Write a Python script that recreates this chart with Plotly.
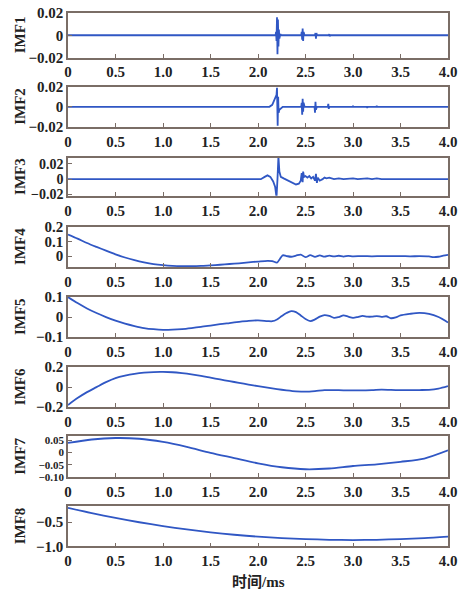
import plotly.graph_objects as go

# ---------------- data ----------------
x_tick_vals = [0, 0.5, 1.0, 1.5, 2.0, 2.5, 3.0, 3.5, 4.0]
x_tick_text = ["0", "0.5", "1.0", "1.5", "2.0", "2.5", "3.0", "3.5", "4.0"]
names = ["IMF1", "IMF2", "IMF3", "IMF4", "IMF5", "IMF6", "IMF7", "IMF8"]

imf1_t = [0, 2.185, 2.19, 2.195, 2.2, 2.205, 2.21, 2.215, 2.22, 2.225, 2.235, 2.245,
          2.455, 2.46, 2.465, 2.47, 2.475, 2.48, 2.49, 2.6, 2.605, 2.61, 2.615, 2.62,
          2.745, 2.75, 2.755, 2.76, 4.0]
imf1_v = [0, 0, 0.003, -0.005, 0.016, -0.017, 0.014, -0.01, 0.005, -0.003, 0.001, 0,
          0, 0.003, -0.004, 0.006, -0.005, 0.003, 0, 0, 0.002, -0.003, 0.002, 0,
          0, 0.001, -0.001, 0, 0]

imf2_t = [0, 2.12, 2.15, 2.18, 2.195, 2.2, 2.203, 2.207, 2.212, 2.217, 2.225, 2.24, 2.26,
          2.455, 2.46, 2.465, 2.47, 2.475, 2.48, 2.49, 2.595, 2.6, 2.605, 2.61, 2.62,
          2.735, 2.74, 2.745, 2.75, 2.995, 3.0, 3.005, 3.145, 3.15, 3.155, 3.245, 3.25,
          3.255, 4.0]
imf2_v = [0, 0, 0.002, 0.008, 0.012, 0.019, -0.005, -0.019, 0.01, -0.006, -0.003, -0.002, 0,
          0, 0.004, -0.008, 0.008, -0.005, 0.004, 0, 0, -0.006, 0.005, -0.003, 0,
          0, 0.003, -0.002, 0, 0, 0.001, 0, 0, -0.001, 0, 0, 0.001,
          0, 0]

imf3_t = [0, 2.03, 2.07, 2.1, 2.13, 2.16, 2.18, 2.195, 2.205, 2.215, 2.225, 2.24, 2.27,
          2.3, 2.35, 2.4, 2.43, 2.45, 2.46, 2.47, 2.475, 2.485, 2.5, 2.52, 2.54, 2.56,
          2.58, 2.6, 2.61, 2.62, 2.63, 2.65, 2.68, 2.7, 2.72, 2.75, 2.8, 2.85, 2.9,
          3.0, 3.05, 3.15, 3.2, 3.25, 3.3, 4.0]
imf3_v = [0, 0, 0.003, 0.005, 0.003, -0.003, -0.01, -0.024, 0.0, 0.03, 0.01, 0.003, 0.001,
          -0.001, -0.004, -0.007, -0.006, -0.002, 0.008, -0.004, 0.01, 0.003, 0.004, 0.002, 0.004, 0.001,
          0.003, -0.002, 0.007, -0.005, 0.002, -0.002, 0, 0.002, 0.001, 0.002, 0, 0.001, 0,
          0.001, 0, 0.001, 0, 0.001, 0, 0]

imf4_t = [0, 0.1, 0.2, 0.3, 0.4, 0.5, 0.6, 0.7, 0.8, 0.9, 1.0, 1.1, 1.2, 1.3, 1.4, 1.5,
          1.6, 1.7, 1.8, 1.9, 2.0, 2.1, 2.15, 2.2, 2.23, 2.26, 2.3, 2.35, 2.4, 2.45, 2.5,
          2.55, 2.6, 2.65, 2.7, 2.75, 2.8, 2.85, 2.9, 2.95, 3.0, 3.1, 3.2, 3.3, 3.4, 3.5,
          3.6, 3.7, 3.8, 3.85, 3.9, 3.95, 4.0]
imf4_v = [0.148, 0.12, 0.09, 0.063, 0.037, 0.012, -0.01, -0.028, -0.043, -0.055, -0.063,
          -0.068, -0.07, -0.07, -0.068, -0.064, -0.06, -0.055, -0.05, -0.044, -0.038, -0.033,
          -0.035, -0.045, -0.02, 0.005, 0.0, -0.005, 0.003, 0.01, -0.008, 0.006, -0.006,
          0.004, -0.004, 0.003, -0.003, 0.002, -0.004, 0.001, -0.002, 0.0, -0.002, 0.0,
          -0.001, 0.0, -0.002, -0.001, -0.003, -0.008, -0.005, 0.002, 0.008]

imf5_t = [0, 0.1, 0.2, 0.3, 0.4, 0.5, 0.6, 0.7, 0.8, 0.9, 1.0, 1.1, 1.2, 1.3, 1.4, 1.5,
          1.6, 1.7, 1.8, 1.9, 2.0, 2.1, 2.15, 2.2, 2.25, 2.3, 2.35, 2.4, 2.45, 2.5, 2.55,
          2.6, 2.65, 2.7, 2.75, 2.8, 2.85, 2.9, 2.95, 3.0, 3.05, 3.1, 3.15, 3.2, 3.25, 3.3,
          3.35, 3.4, 3.45, 3.5, 3.6, 3.7, 3.8, 3.9, 4.0]
imf5_v = [0.1, 0.07, 0.043, 0.02, 0.0, -0.018, -0.033, -0.045, -0.055, -0.061, -0.064,
          -0.063, -0.06, -0.055, -0.049, -0.043, -0.036, -0.03, -0.024, -0.019, -0.017,
          -0.02, -0.021, -0.012, 0.005, 0.02, 0.03, 0.025, 0.008, -0.01, -0.02, -0.012,
          0.002, 0.01, 0.006, -0.004, 0.0, 0.008, 0.002, -0.004, 0.0, 0.006, 0.002, 0.002,
          0.005, 0.001, 0.004, -0.006, -0.002, 0.008, 0.016, 0.021, 0.016, 0.0, -0.027]

imf6_t = [0, 0.1, 0.2, 0.3, 0.4, 0.5, 0.6, 0.7, 0.8, 0.9, 1.0, 1.1, 1.2, 1.3, 1.4, 1.5,
          1.6, 1.7, 1.8, 1.9, 2.0, 2.1, 2.2, 2.3, 2.4, 2.5, 2.6, 2.7, 2.8, 2.9, 3.0, 3.1,
          3.2, 3.3, 3.4, 3.5, 3.6, 3.7, 3.8, 3.9, 4.0]
imf6_v = [-0.18, -0.11, -0.05, 0.0, 0.05, 0.09, 0.115, 0.133, 0.145, 0.151, 0.152, 0.149,
          0.14, 0.128, 0.113, 0.095, 0.077, 0.06, 0.043, 0.026, 0.01, -0.006, -0.02, -0.032,
          -0.042, -0.046, -0.04, -0.03, -0.03, -0.032, -0.033, -0.032, -0.03, -0.025,
          -0.028, -0.03, -0.03, -0.029, -0.027, -0.015, 0.01]

imf7_t = [0, 0.25, 0.5, 0.75, 1.0, 1.25, 1.5, 1.75, 2.0, 2.25, 2.5, 2.75, 3.0, 3.25, 3.5,
          3.75, 4.0]
imf7_v = [0.038, 0.052, 0.058, 0.055, 0.042, 0.022, -0.002, -0.023, -0.044, -0.06, -0.068,
          -0.065, -0.055, -0.048, -0.038, -0.025, 0.008]

imf8_t = [0, 0.25, 0.5, 0.75, 1.0, 1.25, 1.5, 1.75, 2.0, 2.25, 2.5, 2.75, 3.0, 3.25, 3.5,
          3.75, 4.0]
imf8_v = [-0.2, -0.31, -0.41, -0.5, -0.58, -0.65, -0.71, -0.76, -0.8, -0.83, -0.85, -0.865,
          -0.87, -0.865, -0.85, -0.83, -0.8]

series_t = [imf1_t, imf2_t, imf3_t, imf4_t, imf5_t, imf6_t, imf7_t, imf8_t]
series_v = [imf1_v, imf2_v, imf3_v, imf4_v, imf5_v, imf6_v, imf7_v, imf8_v]

y_tick_vals = [[-0.02, 0, 0.02], [-0.02, 0, 0.02], [-0.02, 0, 0.02], [0, 0.1, 0.2],
               [-0.1, 0, 0.1], [-0.2, 0, 0.2], [-0.1, -0.05, 0, 0.05], [-1.0, -0.5]]
y_tick_text = [["\u22120.02", "0", "0.02"], ["\u22120.02", "0", "0.02"],
               ["\u22120.02", "0", "0.02"], ["0", "0.1", "0.2"],
               ["\u22120.1", "0", "0.1"], ["\u22120.2", "0", "0.2"],
               ["\u22120.10", "\u22120.05", "0", "0.05"], ["\u22121.0", "\u22120.5"]]

# ---------------- style / layout ----------------
W, H = 464, 601
L, R = 68, 16
tops = [5, 81, 154, 225, 297, 369, 440, 512]
bots = [51, 122, 193, 266, 338, 410, 482, 553]
y_ranges = [[-0.02, 0.02], [-0.02, 0.02], [-0.022, 0.028], [-0.075, 0.2],
            [-0.1, 0.1], [-0.2, 0.2], [-0.1, 0.065], [-1.0, -0.17]]
y_tick_size = [15, 15, 14, 15, 15, 15, 11, 15]
line_color = "#3057c4"
frame_color = "#7a6d66"
font_fam = "Liberation Serif, Times New Roman, serif"
smooth = [False, False, False, True, True, True, True, True]

fig = go.Figure()
layout = dict(width=W, height=H, margin=dict(l=L, r=R, t=0, b=0),
              paper_bgcolor="white", plot_bgcolor="white", showlegend=False)
annotations = []
for i in range(8):
    k = "" if i == 0 else str(i + 1)
    fig.add_trace(go.Scatter(
        x=series_t[i], y=series_v[i], mode="lines",
        line=dict(color=line_color, width=1.8,
                  shape="spline" if smooth[i] else "linear",
                  smoothing=0.8 if smooth[i] else None),
        xaxis="x" + k, yaxis="y" + k, hoverinfo="skip"))
    dom = [1 - bots[i] / H, 1 - tops[i] / H]
    layout["xaxis" + k] = dict(
        domain=[0, 1], anchor="y" + k, range=[0, 4.0],
        tickvals=x_tick_vals, ticktext=x_tick_text, ticks="inside", ticklen=4,
        tickcolor=frame_color, showline=True, linecolor=frame_color, linewidth=1.5,
        mirror=True, showgrid=False, zeroline=False,
        tickfont=dict(family=font_fam, size=15, color="#222", weight="bold"))
    layout["yaxis" + k] = dict(
        domain=dom, anchor="x" + k, range=y_ranges[i],
        tickvals=y_tick_vals[i], ticktext=y_tick_text[i], ticks="inside", ticklen=4,
        tickcolor=frame_color, showline=True, linecolor=frame_color, linewidth=1.5,
        mirror=True, showgrid=False, zeroline=False,
        tickfont=dict(family=font_fam, size=y_tick_size[i], color="#222", weight="bold"))
    annotations.append(dict(
        text=names[i], xref="paper", yref="paper",
        x=(20 - L) / (W - L - R), y=1 - (tops[i] + bots[i]) / 2 / H,
        textangle=-90, showarrow=False, xanchor="center", yanchor="middle",
        font=dict(family=font_fam, size=15, color="#222", weight="bold")))

annotations.append(dict(
    text="时间/ms", xref="paper", yref="paper", x=0.5, y=1 - 590 / H,
    showarrow=False, xanchor="center", yanchor="middle",
    font=dict(family="Liberation Serif, Noto Sans CJK SC, serif", size=15, color="#222",
              weight="bold")))
layout["annotations"] = annotations
fig.update_layout(**layout)
fig.write_html("out.html")
